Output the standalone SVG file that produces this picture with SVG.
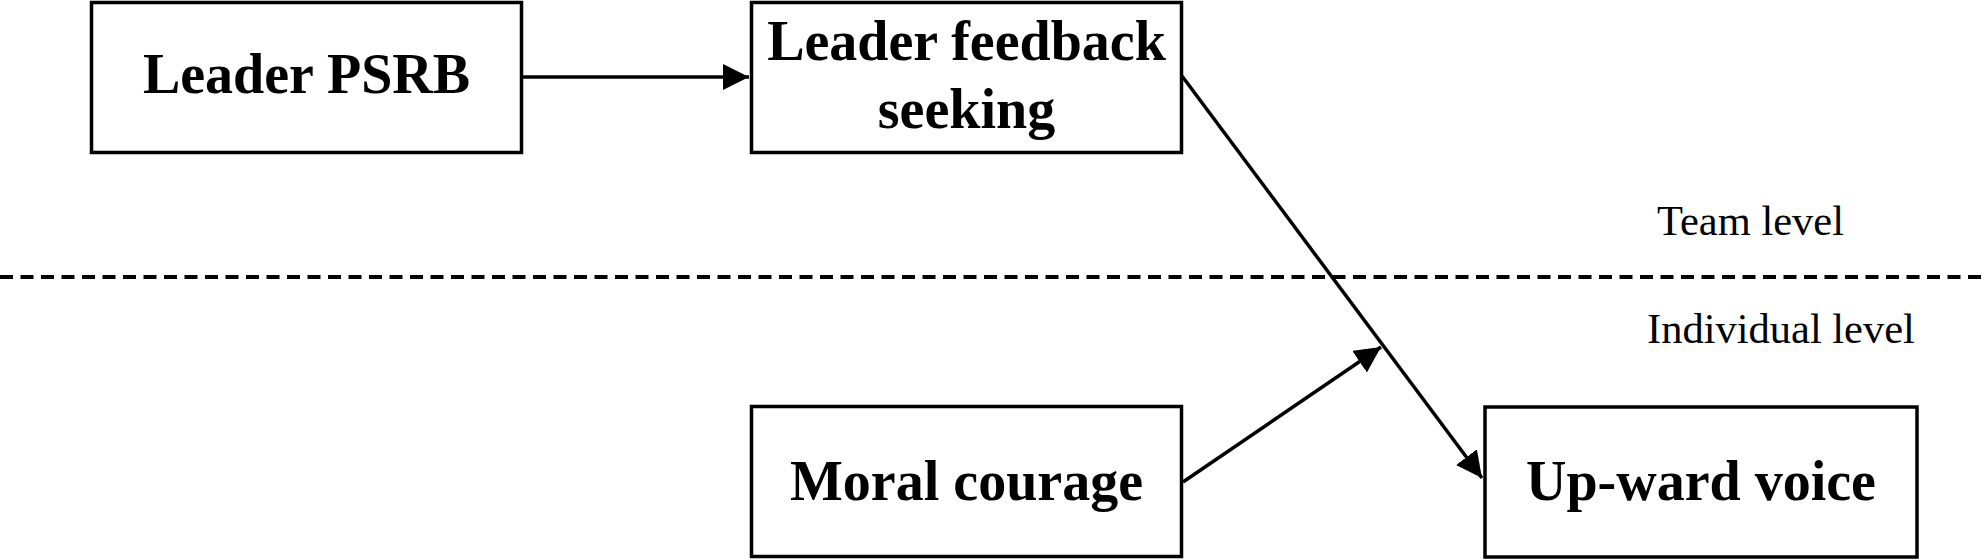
<svg xmlns="http://www.w3.org/2000/svg" width="1987" height="560" viewBox="0 0 1987 560">
<style>
.box{fill:#fff;stroke:#000;stroke-width:3.5}
.t{font-family:"Liberation Serif","Times New Roman",serif;font-weight:bold;font-size:56px;fill:#000;text-anchor:middle}
.lv{font-family:"Liberation Serif","Times New Roman",serif;font-size:42.5px;fill:#000}
.c{stroke:#000;stroke-width:3.5;fill:none}
</style>
<defs>
<marker id="ah" markerUnits="userSpaceOnUse" markerWidth="28" markerHeight="28" viewBox="0 0 28 28" refX="26" refY="13" orient="auto">
<path d="M0,0 L26,13 L0,26 z" fill="#000"/>
</marker>
</defs>
<rect width="1987" height="560" fill="#fff"/>
<g id="levels">
<line x1="0" y1="277" x2="1987" y2="277" stroke="#000" stroke-width="4" stroke-dasharray="13 7.5"/>
<text class="lv" x="1657" y="235">Team level</text>
<text class="lv" x="1647" y="343">Individual level</text>
</g>
<g id="connectors">
<line class="c" x1="522" y1="77" x2="749" y2="77" marker-end="url(#ah)"/>
<line class="c" x1="1182" y1="76" x2="1482" y2="478" marker-end="url(#ah)"/>
<line class="c" x1="1183" y1="482" x2="1381" y2="347" marker-end="url(#ah)"/>
</g>
<g id="leader-psrb">
<rect class="box" x="91.5" y="2.5" width="430" height="150"/>
<text class="t" x="306.5" y="93">Leader PSRB</text>
</g>
<g id="leader-feedback-seeking">
<rect class="box" x="751.5" y="2.5" width="430" height="150"/>
<text class="t" x="966.5" y="60">Leader feedback</text>
<text class="t" x="966.5" y="128">seeking</text>
</g>
<g id="moral-courage">
<rect class="box" x="751.5" y="406.5" width="430" height="150"/>
<text class="t" x="966.5" y="500">Moral courage</text>
</g>
<g id="upward-voice">
<rect class="box" x="1485" y="407" width="432" height="150"/>
<text class="t" x="1701" y="500">Up-ward voice</text>
</g>
</svg>
